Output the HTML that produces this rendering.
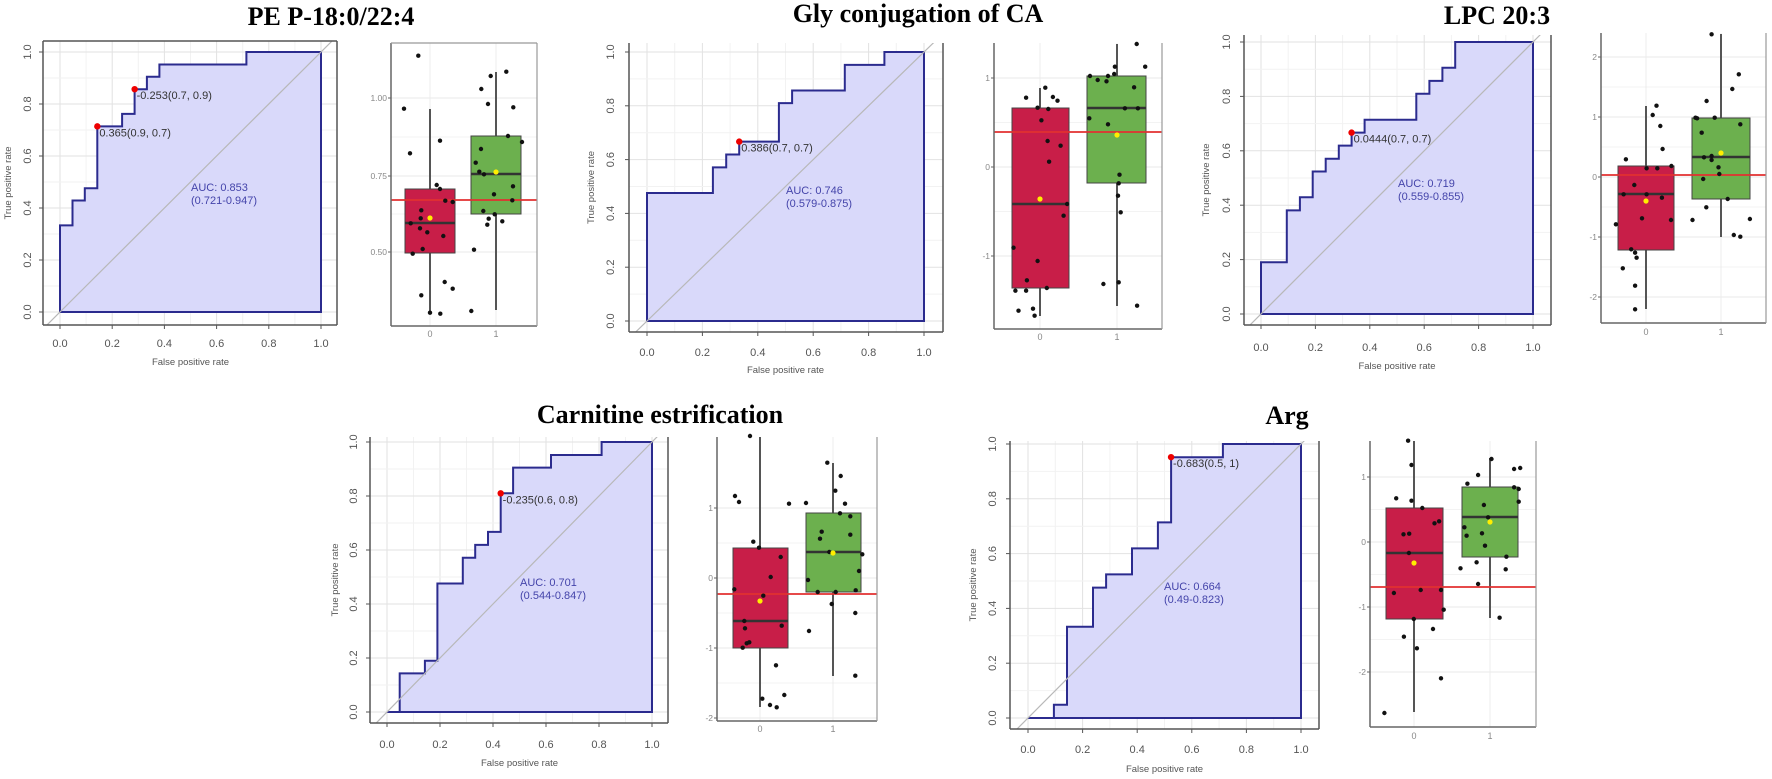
<!DOCTYPE html>
<html><head><meta charset="utf-8"><style>
html,body{margin:0;padding:0;background:#fff;}
svg{display:block;}
</style></head><body>
<svg id="s" width="1772" height="779" xmlns="http://www.w3.org/2000/svg" font-family="Liberation Sans, sans-serif"></svg>
<script>
const S=document.getElementById('s');
let h='';
function T(x,y,t,o){o=o||{};h+=`<text x="${x}" y="${y}" font-size="${o.fs||11}" fill="${o.c||'#555'}" text-anchor="${o.a||'middle'}"${o.r?` transform="rotate(-90 ${x} ${y})"`:''}${o.fw?` font-weight="${o.fw}"`:''}${o.ff?` font-family="${o.ff}"`:''}>${t}</text>`;}
function L(x1,y1,x2,y2,c,w){h+=`<line x1="${x1}" y1="${y1}" x2="${x2}" y2="${y2}" stroke="${c}" stroke-width="${w}"/>`;}
let cid=0;
function roc(p){
  const X=v=>p.x0+(p.x1-p.x0)*v, Y=v=>p.y0+(p.y1-p.y0)*v, f=p.f;
  cid++;
  h+=`<clipPath id="c${cid}"><rect x="${f.l}" y="${f.t}" width="${f.r-f.l}" height="${f.b-f.t}"/></clipPath>`;
  for(let i=0;i<=10;i++){const v=i/10,c=i%2?'#f2f2f2':'#e2e2e2';
    L(X(v),f.t,X(v),f.b,c,1);L(f.l,Y(v),f.r,Y(v),c,1);}
  let pts=p.pts.map(q=>X(q[0]).toFixed(1)+','+Y(q[1]).toFixed(1)).join(' ');
  pts+=' '+X(1)+','+Y(0);
  h+=`<polygon points="${pts}" fill="#d9d9fa" stroke="#2b2b8e" stroke-width="2" stroke-linejoin="miter"/>`;
  h+=`<g clip-path="url(#c${cid})"><line x1="${X(-0.1)}" y1="${Y(-0.1)}" x2="${X(1.1)}" y2="${Y(1.1)}" stroke="#b8b8b8" stroke-width="1.2"/></g>`;
  L(f.l,f.t,f.l,f.b,'#555',1.5);L(f.l,f.b,f.r,f.b,'#555',1.5);L(f.r,f.t,f.r,f.b,'#555',1.5);
  if(p.top)L(f.l,f.t,f.r,f.t,'#555',1.5);
  for(let i=0;i<=5;i++){const v=i/5,l=v.toFixed(1);
    L(X(v),f.b,X(v),f.b+4,'#555',1);L(f.l-4,Y(v),f.l,Y(v),'#555',1);
    T(X(v),p.xt+4,l,{fs:11,c:'#555'});
    T(p.yt+4,Y(v),l,{fs:11,c:'#555',r:1});}
  T(p.yl+3,(f.t+f.b)/2,'True positive rate',{fs:9.5,c:'#555',r:1});
  T((X(0)+X(1))/2,p.xl+3,'False positive rate',{fs:9.5,c:'#555'});
  p.red.forEach(r=>{h+=`<circle cx="${X(r[0])}" cy="${Y(r[1])}" r="3.2" fill="#e00"/>`;
    T(X(r[0])+2,Y(r[1])+10,r[2],{fs:11,c:'#333',a:'start'});});
  T(p.auc[0],p.auc[1],p.auc[2],{fs:11,c:'#4444aa',a:'start'});
  T(p.auc[0],p.auc[1]+13,p.auc[3],{fs:11,c:'#4444aa',a:'start'});
}
function box(b){
  const f=b.f;
  // grid
  b.ticks.forEach(t=>L(f.l,t[0],f.r,t[0],'#e8e8e8',1));
  for(let i=0;i<b.ticks.length-1;i++){const m=(b.ticks[i][0]+b.ticks[i+1][0])/2;L(f.l,m,f.r,m,'#f3f3f3',1);}
  L(b.c0,f.t,b.c0,f.b,'#ececec',1);L(b.c1,f.t,b.c1,f.b,'#ececec',1);
  // whiskers
  L(b.c0,b.rw[0],b.c0,b.rw[1],'#555',2);L(b.c1,b.gw[0],b.c1,b.gw[1],'#555',2);
  h+=`<rect x="${b.rb[0]}" y="${b.rb[2]}" width="${b.rb[1]-b.rb[0]}" height="${b.rb[3]-b.rb[2]}" fill="#c81e48" stroke="#444" stroke-width="1"/>`;
  h+=`<rect x="${b.gb[0]}" y="${b.gb[2]}" width="${b.gb[1]-b.gb[0]}" height="${b.gb[3]-b.gb[2]}" fill="#6cb04e" stroke="#444" stroke-width="1"/>`;
  L(b.rb[0],b.rb[4],b.rb[1],b.rb[4],'#333',2.5);L(b.gb[0],b.gb[4],b.gb[1],b.gb[4],'#333',2.5);
  L(f.l,b.line,f.r,b.line,'#e23030',1.8);
  b.dots.forEach(d=>{h+=`<circle cx="${(d[0]/b.sx+b.ox).toFixed(1)}" cy="${(d[1]/3+b.oy).toFixed(1)}" r="2.2" fill="#111"/>`;});
  h+=`<circle cx="${b.m0[0]}" cy="${b.m0[1]}" r="2.6" fill="#ffee00"/><circle cx="${b.m1[0]}" cy="${b.m1[1]}" r="2.6" fill="#ffee00"/>`;
  L(f.l,f.t,f.l,f.b,'#666',1.5);L(f.l,f.b,f.r,f.b,'#666',1.5);L(f.r,f.t,f.r,f.b,'#999',1.2);
  if(b.top)L(f.l,f.t,f.r,f.t,'#999',1.2);
  b.ticks.forEach(t=>{L(f.l-3,t[0],f.l,t[0],'#666',1);T(f.l-4,t[0]+3,t[1],{fs:8.5,c:'#888',a:'end'});});
  T(b.c0,b.xt+3,'0',{fs:9,c:'#888'});T(b.c1,b.xt+3,'1',{fs:9,c:'#888'});
}
function title(x,y,t){T(x,y,t,{fs:26,c:'#000',fw:'bold',ff:'Liberation Serif, serif'});}

title(331,25,'PE P-18:0/22:4');
title(918,22,'Gly conjugation of CA');
title(1497,24,'LPC 20:3');
title(660,423,'Carnitine estrification');
title(1287,424,'Arg');

roc({f:{l:43,t:41,r:337,b:325},x0:60,x1:321,y0:312,y1:52,top:1,yt:27,yl:8,xt:343,xl:362,
 pts:[[0,0],[0,.333],[.048,.333],[.048,.429],[.095,.429],[.095,.476],[.143,.476],[.143,.714],[.238,.714],[.238,.762],[.286,.762],[.286,.857],[.333,.857],[.333,.905],[.381,.905],[.381,.952],[.714,.952],[.714,1],[1,1]],
 red:[[.143,.714,'0.365(0.9, 0.7)'],[.286,.857,'-0.253(0.7, 0.9)']],auc:[191,191,'AUC: 0.853','(0.721-0.947)']});
roc({f:{l:629,t:43,r:943,b:332},x0:647,x1:924,y0:321,y1:52,yt:610,yl:591,xt:352,xl:370,
 pts:[[0,0],[0,.476],[.238,.476],[.238,.571],[.286,.571],[.286,.619],[.333,.619],[.333,.667],[.476,.667],[.476,.81],[.524,.81],[.524,.857],[.714,.857],[.714,.952],[.857,.952],[.857,1],[1,1]],
 red:[[.333,.667,'0.386(0.7, 0.7)']],auc:[786,194,'AUC: 0.746','(0.579-0.875)']});
roc({f:{l:1244,t:35,r:1551,b:325},x0:1261,x1:1533,y0:314,y1:42,yt:1226,yl:1206,xt:347,xl:366,
 pts:[[0,0],[0,.19],[.095,.19],[.095,.381],[.143,.381],[.143,.429],[.19,.429],[.19,.524],[.238,.524],[.238,.571],[.286,.571],[.286,.619],[.333,.619],[.333,.667],[.381,.667],[.381,.714],[.571,.714],[.571,.81],[.619,.81],[.619,.857],[.667,.857],[.667,.905],[.714,.905],[.714,1],[1,1]],
 red:[[.333,.667,'0.0444(0.7, 0.7)']],auc:[1398,187,'AUC: 0.719','(0.559-0.855)']});
roc({f:{l:370,t:437,r:668,b:723},x0:387,x1:652,y0:712,y1:442,yt:353,yl:335,xt:744,xl:763,
 pts:[[0,0],[.048,0],[.048,.143],[.143,.143],[.143,.19],[.19,.19],[.19,.476],[.286,.476],[.286,.571],[.333,.571],[.333,.619],[.381,.619],[.381,.667],[.429,.667],[.429,.81],[.476,.81],[.476,.905],[.619,.905],[.619,.952],[.81,.952],[.81,1],[1,1]],
 red:[[.429,.81,'-0.235(0.6, 0.8)']],auc:[520,586,'AUC: 0.701','(0.544-0.847)']});
roc({f:{l:1010,t:441,r:1319,b:729},x0:1028,x1:1301,y0:718,y1:444,yt:992,yl:973,xt:749,xl:769,
 pts:[[0,0],[.095,0],[.095,.048],[.143,.048],[.143,.333],[.238,.333],[.238,.476],[.286,.476],[.286,.524],[.381,.524],[.381,.619],[.476,.619],[.476,.714],[.524,.714],[.524,.952],[.714,.952],[.714,1],[1,1]],
 red:[[.524,.952,'-0.683(0.5, 1)']],auc:[1164,590,'AUC: 0.664','(0.49-0.823)']});

box({f:{l:391,t:43,r:537,b:326},top:1,ticks:[[98,'1.00'],[176,'0.75'],[252,'0.50']],c0:430,c1:496,xt:334,
 rw:[109,313],gw:[72,310],rb:[405,455,189,253,223],gb:[471,521,136,214,174],line:200,m0:[430,218],m1:[496,172],
 sx:3,ox:380,oy:30,dots:[[115,77],[72,236],[90,370],[180,332],[170,465],[180,477],[196,512],[218,516],[124,541],[122,565],[92,580],[120,595],[142,607],[190,618],[128,657],[98,671],[194,756],[218,776],[124,796],[150,848],[181,851],
 [332,138],[379,125],[304,177],[324,222],[400,232],[384,318],[426,336],[303,357],[287,398],[298,425],[312,433],[342,493],[399,469],[397,511],[310,543],[344,553],[326,566],[322,584],[367,574],[282,659],[274,843]]});
box({f:{l:994,t:43,r:1162,b:329},ticks:[[78,'1'],[167,'0'],[256,'-1']],c0:1040,c1:1117,xt:337,
 rw:[88,316],gw:[44,306],rb:[1012,1069,108,288,204],gb:[1087,1146,76,183,108],line:132,m0:[1040,199],m1:[1117,135],
 sx:2.613,ox:560,oy:0,dots:[[1218,293],[1268,263],[1288,291],[1300,302],[1248,323],[1276,327],[1258,361],[1274,423],[1308,437],[1278,485],[1325,612],[1316,647],[1185,743],[1248,783],[1220,841],[1190,872],[1218,872],[1272,864],[1198,932],[1236,926],[1240,947],
 [1507,132],[1450,200],[1529,200],[1385,228],[1405,240],[1432,228],[1428,244],[1448,222],[1500,262],[1476,325],[1510,325],[1383,355],[1432,373],[1462,524],[1460,550],[1458,587],[1465,637],[1420,852],[1460,847],[1508,917]]});
box({f:{l:1601,t:33,r:1766,b:323},ticks:[[57,'2'],[117,'1'],[177,'0'],[237,'-1'],[297,'-2']],c0:1646,c1:1721,xt:332,
 rw:[106,309],gw:[34,237],rb:[1618,1674,166,250,194],gb:[1692,1750,118,199,157],line:175,m0:[1646,201],m1:[1721,153],
 sx:2.613,ox:1172,oy:0,dots:[[1266,317],[1256,345],[1276,378],[1282,447],[1186,478],[1305,498],[1240,505],[1268,505],[1208,555],[1180,583],[1240,583],[1280,593],[1228,655],[1304,660],[1160,673],[1200,748],[1210,758],[1214,773],[1178,805],[1210,857],[1210,928],
 [1410,103],[1481,223],[1464,267],[1397,303],[1485,373],[1368,353],[1372,355],[1418,353],[1384,398],[1390,472],[1410,468],[1410,480],[1428,502],[1430,522],[1388,537],[1452,597],[1396,622],[1360,660],[1510,657],[1468,705],[1485,710]]});
box({f:{l:717,t:437,r:877,b:721},ticks:[[508,'1'],[578,'0'],[648,'-1'],[718,'-2']],c0:760,c1:833,xt:729,
 rw:[437,707],gw:[463,676],rb:[733,788,548,648,621],gb:[806,861,513,592,552],line:594,m0:[760,601],m1:[833,553],
 sx:3,ox:690,oy:420,dots:[[135,228],[147,246],[190,365],[207,383],[272,411],[242,471],[133,508],[220,527],[163,603],[165,625],[275,617],[158,683],[170,670],[178,667],[258,736],[217,836],[240,855],[260,862],[283,825],[297,251],[180,48],
 [412,128],[452,168],[436,212],[465,251],[348,249],[450,280],[481,289],[395,335],[390,356],[481,344],[418,396],[517,403],[507,453],[354,480],[383,516],[437,516],[497,511],[425,552],[496,579],[357,633],[496,767]]});
box({f:{l:1370,t:441,r:1536,b:727},ticks:[[477,'1'],[542,'0'],[607,'-1'],[672,'-2']],c0:1414,c1:1490,xt:736,
 rw:[441,712],gw:[458,618],rb:[1386,1443,508,619,553],gb:[1462,1518,487,557,517],line:587,m0:[1414,563],m1:[1490,522],
 sx:2.613,ox:950,oy:379,dots:[[1197,185],[1206,258],[1166,358],[1206,365],[1234,387],[1185,466],[1200,464],[1199,522],[1266,433],[1278,427],[1160,642],[1230,633],[1283,633],[1290,692],[1212,720],[1186,773],[1262,750],[1220,808],[1283,898],[1135,1002],
 [1415,240],[1380,288],[1352,314],[1474,270],[1490,267],[1474,325],[1486,330],[1395,378],[1406,415],[1344,445],[1350,470],[1390,463],[1398,500],[1454,533],[1334,568],[1376,550],[1452,571],[1380,615],[1486,368],[1436,716]]});

S.innerHTML=h;
</script>
</body></html>
